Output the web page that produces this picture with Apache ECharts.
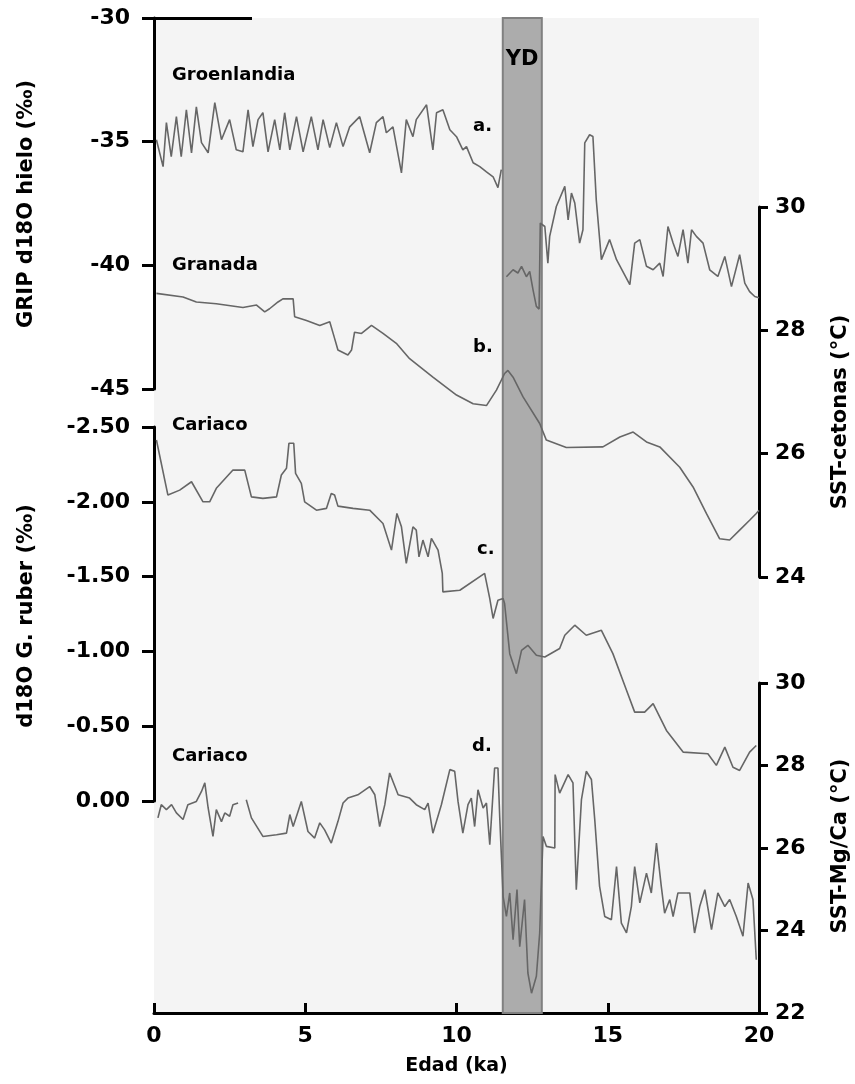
<!DOCTYPE html>
<html>
<head>
<meta charset="utf-8">
<script src="https://cdn.jsdelivr.net/npm/echarts@6/dist/echarts.min.js"></script>
<style>
  html, body { margin: 0; padding: 0; background: #fff; }
  #chart { width: 855px; height: 1084px; }
</style>
</head>
<body>
<div id="chart"></div>
<script>
// [edad ka, valor] por registro; null = hueco
const grip = [
  [0.08,-34.92],[0.30,-36.01],[0.41,-34.23],[0.57,-35.61],[0.74,-33.99],[0.90,-35.61],[1.07,-33.71],[1.24,-35.45],
  [1.40,-33.59],[1.57,-35.04],[1.79,-35.45],[2.01,-33.42],[2.23,-34.92],[2.50,-34.11],[2.72,-35.33],[2.94,-35.41],
  [3.11,-33.71],[3.27,-35.20],[3.44,-34.11],[3.60,-33.83],[3.77,-35.41],[3.99,-34.11],[4.16,-35.33],[4.32,-33.83],
  [4.49,-35.33],[4.71,-33.99],[4.93,-35.41],[5.20,-33.99],[5.42,-35.33],[5.59,-34.11],[5.81,-35.24],[6.03,-34.23],
  [6.25,-35.20],[6.47,-34.40],[6.80,-33.99],[7.13,-35.45],[7.35,-34.23],[7.57,-33.99],[7.68,-34.64],[7.90,-34.40],
  [8.18,-36.26],[8.34,-34.11],[8.56,-34.80],[8.67,-34.11],[9.01,-33.51],[9.22,-35.33],[9.34,-33.83],[9.55,-33.71],
  [9.78,-34.52],[10.00,-34.80],[10.21,-35.33],[10.33,-35.20],[10.55,-35.85],[10.77,-36.01],[10.99,-36.22],
  [11.21,-36.42],[11.37,-36.86],[11.48,-36.13],[11.52,null],
  [11.65,-40.46],[11.87,-40.18],[12.03,-40.31],[12.15,-40.04],[12.31,-40.46],[12.42,-40.25],[12.53,-40.99],
  [12.64,-41.66],[12.73,-41.77],[12.77,-38.29],[12.92,-38.43],[13.02,-39.91],[13.08,-38.83],[13.30,-37.62],
  [13.58,-36.81],[13.69,-38.16],[13.80,-37.08],[13.91,-37.48],[14.07,-39.10],[14.18,-38.56],[14.24,-35.05],
  [14.40,-34.72],[14.51,-34.79],[14.62,-37.35],[14.79,-39.77],[15.06,-38.96],[15.29,-39.77],[15.73,-40.78],
  [15.89,-39.10],[16.06,-38.96],[16.28,-40.04],[16.50,-40.18],[16.72,-39.91],[16.83,-40.45],[16.99,-38.43],
  [17.16,-39.10],[17.32,-39.64],[17.49,-38.56],[17.65,-39.91],[17.77,-38.56],[17.93,-38.83],[18.15,-39.10],
  [18.37,-40.18],[18.64,-40.45],[18.87,-39.64],[19.09,-40.86],[19.36,-39.57],[19.53,-40.72],[19.69,-41.06],
  [19.86,-41.26],[20.00,-41.31]
];

const granada = [
  [0.08,28.60],[0.96,28.54],[1.40,28.46],[2.06,28.43],[2.94,28.37],[3.39,28.41],[3.66,28.30],[3.82,28.35],
  [4.10,28.46],[4.26,28.51],[4.60,28.51],[4.65,28.22],[5.04,28.16],[5.48,28.08],[5.81,28.14],[5.97,27.87],
  [6.08,27.68],[6.41,27.60],[6.53,27.68],[6.63,27.97],[6.86,27.95],[7.19,28.08],[7.57,27.95],[8.01,27.79],
  [8.45,27.54],[9.22,27.24],[10.00,26.95],[10.55,26.81],[10.99,26.78],[11.32,27.03],[11.59,27.30],[11.70,27.35],
  [11.87,27.24],[12.20,26.92],[12.75,26.49],[12.97,26.22],[13.63,26.10],[14.84,26.11],[15.40,26.27],[15.84,26.35],
  [16.28,26.19],[16.72,26.11],[17.38,25.78],[17.82,25.46],[18.26,25.03],[18.70,24.62],[19.03,24.60],[19.36,24.76],
  [19.69,24.92],[19.91,25.03],[20.00,25.08]
];

const cariacoRuber = [
  [0.08,-2.413],[0.46,-2.045],[0.85,-2.078],[1.24,-2.134],[1.62,-2.000],[1.84,-2.000],[2.06,-2.090],[2.61,-2.212],
  [3.00,-2.212],[3.22,-2.033],[3.60,-2.023],[4.05,-2.033],[4.21,-2.179],[4.38,-2.224],[4.46,-2.391],[4.62,-2.391],
  [4.68,-2.190],[4.87,-2.123],[4.98,-2.000],[5.37,-1.944],[5.70,-1.956],[5.86,-2.056],[5.97,-2.045],[6.08,-1.971],
  [6.58,-1.956],[7.13,-1.944],[7.57,-1.855],[7.85,-1.677],[8.03,-1.922],[8.18,-1.833],[8.34,-1.588],[8.56,-1.833],
  [8.67,-1.811],[8.76,-1.632],[8.89,-1.744],[9.06,-1.632],[9.17,-1.755],[9.39,-1.677],[9.53,-1.521],[9.55,-1.398],
  [10.11,-1.409],[10.93,-1.521],[11.10,-1.353],[11.21,-1.220],[11.37,-1.342],[11.54,-1.353],[11.59,-1.320],
  [11.76,-0.985],[11.98,-0.851],[12.15,-1.007],[12.36,-1.041],[12.64,-0.974],[12.92,-0.963],[13.41,-1.019],
  [13.58,-1.108],[13.91,-1.175],[14.29,-1.108],[14.79,-1.141],[15.17,-0.985],[15.62,-0.740],[15.89,-0.594],
  [16.22,-0.594],[16.50,-0.651],[16.94,-0.472],[17.49,-0.327],[18.31,-0.316],[18.59,-0.238],[18.87,-0.360],
  [19.14,-0.226],[19.36,-0.204],[19.69,-0.327],[19.91,-0.371]
];

const cariacoMgCa = [
  [0.13,26.73],[0.24,27.05],[0.41,26.93],[0.58,27.05],[0.74,26.85],[0.96,26.69],[1.12,27.05],[1.40,27.13],
  [1.57,27.37],[1.68,27.58],[1.79,26.97],[1.95,26.28],[2.06,26.93],[2.23,26.64],[2.34,26.85],[2.50,26.77],
  [2.61,27.05],[2.78,27.09],[2.90,null],[3.05,27.17],[3.22,26.73],[3.60,26.28],[4.05,26.32],[4.38,26.36],
  [4.49,26.81],[4.60,26.52],[4.87,27.13],[5.09,26.40],[5.31,26.24],[5.48,26.61],[5.64,26.44],[5.86,26.12],
  [6.08,26.64],[6.25,27.09],[6.41,27.21],[6.74,27.29],[7.13,27.49],[7.30,27.29],[7.46,26.52],[7.63,27.05],
  [7.79,27.82],[8.07,27.29],[8.45,27.21],[8.67,27.05],[8.95,26.93],[9.06,27.09],[9.22,26.36],[9.50,27.05],
  [9.78,27.90],[9.94,27.86],[10.05,27.13],[10.21,26.36],[10.38,27.05],[10.49,27.21],[10.60,26.52],[10.71,27.41],
  [10.88,26.97],[10.99,27.09],[11.10,26.08],[11.26,27.94],[11.37,27.94],[11.43,26.73],[11.54,24.83],[11.65,24.34],
  [11.76,24.91],[11.87,23.78],[12.00,24.99],[12.09,23.61],[12.25,24.75],[12.36,22.97],[12.48,22.48],[12.64,22.89],
  [12.75,23.94],[12.86,26.28],[12.97,26.04],[13.25,26.00],[13.26,27.78],[13.41,27.33],[13.69,27.78],[13.85,27.58],
  [13.96,24.99],[14.13,27.17],[14.29,27.86],[14.46,27.66],[14.57,26.69],[14.73,25.07],[14.90,24.34],[15.12,24.26],
  [15.29,25.55],[15.45,24.18],[15.62,23.94],[15.78,24.58],[15.89,25.55],[16.06,24.67],[16.28,25.39],[16.44,24.91],
  [16.61,26.12],[16.77,25.07],[16.88,24.42],[17.05,24.75],[17.16,24.34],[17.32,24.91],[17.71,24.91],[17.87,23.94],
  [18.04,24.58],[18.21,24.99],[18.43,24.02],[18.64,24.91],[18.87,24.58],[19.03,24.75],[19.25,24.34],[19.47,23.86],
  [19.64,25.15],[19.80,24.75],[19.91,23.29]
];

const ydStart = 11.53;
const ydEnd = 12.82;

const FONT = '"DejaVu Sans", sans-serif';
const LINE = '#666666';

const chart = echarts.init(document.getElementById('chart'));

const grids = [
  { left: 154, right: 96, top: 18, bottom: 71, show: true, backgroundColor: '#f4f4f4', borderWidth: 0 },
  { left: 154, right: 96, top: 18, height: 371 },
  { left: 154, right: 96, top: 207, height: 370 },
  { left: 154, right: 96, top: 427, height: 374 },
  { left: 154, right: 96, top: 683, height: 330 }
];

const tickLabel = { fontFamily: FONT, fontWeight: 'bold', fontSize: 22, color: '#000' };

function xAx(i) {
  const shown = i === 0;
  return {
    gridIndex: i, type: 'value', min: 0, max: 20, interval: 5, show: shown,
    axisLine: { show: shown, onZero: false, lineStyle: { color: '#000', width: 3 } },
    axisTick: { show: shown, inside: true, length: 10, lineStyle: { color: '#000', width: 3 } },
    axisLabel: Object.assign({ show: shown, margin: 12 }, tickLabel),
    splitLine: { show: false },
    name: shown ? 'Edad (ka)' : '',
    nameLocation: 'middle', nameGap: 44,
    nameTextStyle: { fontFamily: FONT, fontWeight: 'bold', fontSize: 19, color: '#000' }
  };
}

function yAx(i, pos, min, max, interval, extra) {
  const left = pos === 'left';
  return Object.assign({
    gridIndex: i, type: 'value', position: pos, min: min, max: max, interval: interval,
    axisLine: { show: true, onZero: false, lineStyle: { color: '#000', width: 3 } },
    axisTick: { show: true, length: left ? 12 : 9, lineStyle: { color: '#000', width: 3 } },
    axisLabel: Object.assign({ margin: left ? 24 : 16 }, tickLabel),
    splitLine: { show: false }
  }, extra || {});
}

function trace(data, i) {
  return {
    type: 'line', xAxisIndex: i, yAxisIndex: i, data: data,
    showSymbol: false, symbol: 'none', connectNulls: false, clip: false, z: 3,
    lineStyle: { color: LINE, width: 1.6 }
  };
}

function note(text, x, y, size) {
  return { type: 'text', z: 10, x: x, y: y,
    style: { text: text, font: 'bold ' + (size || 18) + 'px ' + FONT, fill: '#000', align: 'left', verticalAlign: 'middle' } };
}

function axisTitle(text, x, y) {
  return { type: 'text', z: 10, x: x, y: y, rotation: Math.PI / 2,
    style: { text: text, font: 'bold 21px ' + FONT, fill: '#000', align: 'center', verticalAlign: 'middle' } };
}

const option = {
  animation: false,
  backgroundColor: '#fff',
  grid: grids,
  xAxis: [0, 1, 2, 3, 4].map(xAx),
  yAxis: [
    { gridIndex: 0, type: 'value', min: 0, max: 1, show: false },
    yAx(1, 'left', -45, -30, 5),
    yAx(2, 'right', 24, 30, 2),
    yAx(3, 'left', -2.5, 0, 0.5, { inverse: true,
      axisLabel: Object.assign({ margin: 24, formatter: v => v.toFixed(2) }, tickLabel) }),
    yAx(4, 'right', 22, 30, 2)
  ],
  series: [
    {
      type: 'line', xAxisIndex: 0, yAxisIndex: 0, z: 1,
      data: [[ydStart, 0.5], [ydEnd, 0.5]],
      symbol: 'none', lineStyle: { opacity: 0 }, silent: true,
      markArea: {
        silent: true,
        itemStyle: { color: '#acacac', borderColor: '#808080', borderWidth: 2 },
        data: [[{ xAxis: ydStart }, { xAxis: ydEnd }]]
      }
    },
    trace(grip, 1),
    trace(granada, 2),
    trace(cariacoRuber, 3),
    trace(cariacoMgCa, 4)
  ],
  graphic: [
    { type: 'line', z: 10, shape: { x1: 142, y1: 18.5, x2: 252, y2: 18.5 }, style: { stroke: '#000', lineWidth: 3 } },
    { type: 'text', z: 10, x: 522, y: 60, style: { text: 'YD', font: 'bold 21px ' + FONT, fill: '#000', align: 'center', verticalAlign: 'middle' } },
    note('Groenlandia', 172, 75),
    note('Granada', 172, 265),
    note('Cariaco', 172, 425),
    note('Cariaco', 172, 756),
    note('a.', 473, 126),
    note('b.', 473, 347),
    note('c.', 477, 549),
    note('d.', 472, 746),
    axisTitle('GRIP d18O hielo (‰)', 27, 204),
    axisTitle('d18O G. ruber (‰)', 27, 616),
    axisTitle('SST-cetonas (°C)', 841, 412),
    axisTitle('SST-Mg/Ca (°C)', 841, 846)
  ]
};

chart.setOption(option);
</script>
</body>
</html>
